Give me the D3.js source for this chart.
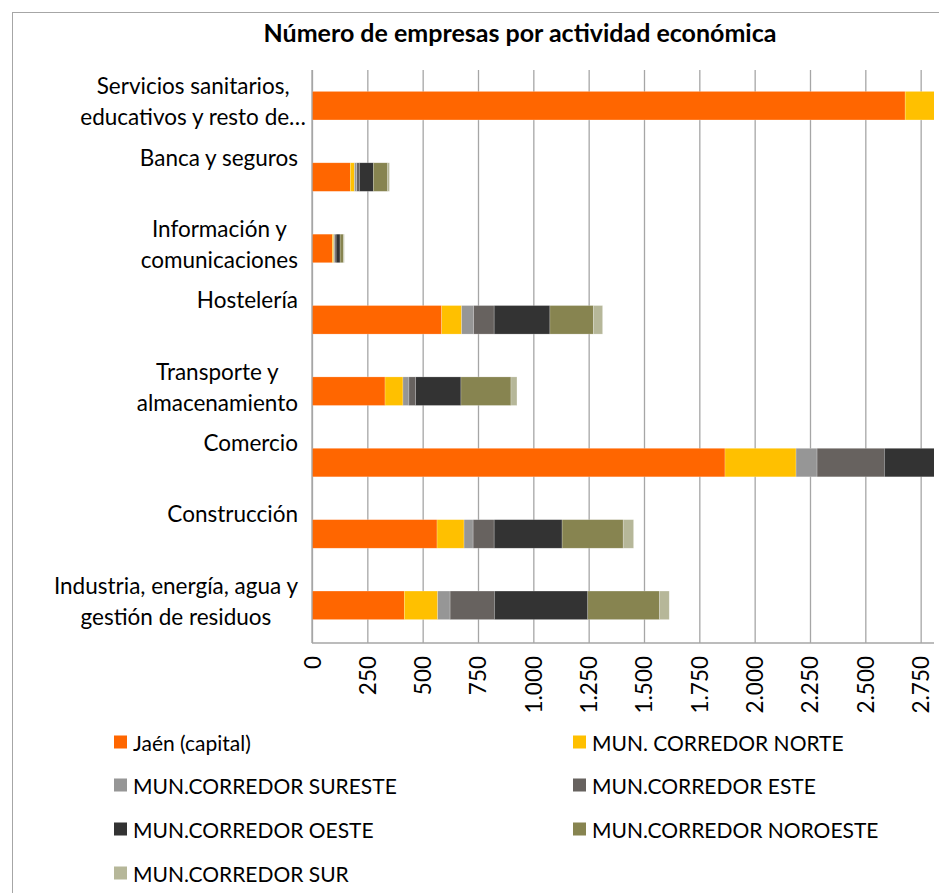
<!DOCTYPE html>
<html>
<head>
<meta charset="utf-8">
<script src="https://cdn.jsdelivr.net/npm/d3@7"></script>
<style>
  html, body { margin: 0; padding: 0; background: #fff; }
  svg { display: block; font-family: Lato, "Open Sans", sans-serif; }
</style>
</head>
<body>
<svg id="chart" width="939" height="893"></svg>
<script>
// ---- data ----
const title = "Número de empresas por actividad económica";
const categories = [
  "Servicios sanitarios, educativos y resto de…",
  "Banca y seguros",
  "Información y comunicaciones",
  "Hostelería",
  "Transporte y almacenamiento",
  "Comercio",
  "Construcción",
  "Industria, energía, agua y gestión de residuos"
];
const categoryLines = [
  ["Servicios sanitarios,", "educativos y resto de…"],
  ["Banca y seguros"],
  ["Información y", "comunicaciones"],
  ["Hostelería"],
  ["Transporte y", "almacenamiento"],
  ["Comercio"],
  ["Construcción"],
  ["Industria, energía, agua y", "gestión de residuos"]
];
const seriesNames = [
  "Jaén (capital)",
  "MUN. CORREDOR NORTE",
  "MUN.CORREDOR SURESTE",
  "MUN.CORREDOR ESTE",
  "MUN.CORREDOR OESTE",
  "MUN.CORREDOR NOROESTE",
  "MUN.CORREDOR SUR"
];
const jaenCapital   = [2680, 173, 92, 586, 330, 1866, 565, 417];
const corredorNorte = [380, 19, 6, 90, 81, 321, 122, 151];
const corredorSureste = [120, 10, 5, 54, 27, 95, 41, 56];
const corredorEste  = [330, 12, 6, 93, 30, 304, 95, 200];
const corredorOeste = [560, 63, 18, 252, 205, 620, 307, 422];
const corredorNoroeste = [480, 65, 15, 196, 226, 560, 276, 324];
const corredorSur   = [80, 8, 4, 42, 27, 90, 47, 44];
const seriesValues = [jaenCapital, corredorNorte, corredorSureste, corredorEste, corredorOeste, corredorNoroeste, corredorSur];
const tickValues = [0, 250, 500, 750, 1000, 1250, 1500, 1750, 2000, 2250, 2500, 2750];
const colors = ["#ff6600", "#ffc000", "#969696", "#67625f", "#333333", "#878450", "#b6b799"];

// ---- layout ----
const svg = d3.select("#chart");
const plotLeft = 312, plotRight = 934, plotTop = 70, plotBottom = 643;
const pxPerUnit = 0.22133;
const x = d3.scaleLinear().domain([0, 3000]).range([plotLeft, plotLeft + 3000 * pxPerUnit]);
const y = d3.scaleBand().domain(categories).range([plotTop, plotBottom - 2]).paddingInner(0.6).paddingOuter(0.3);
const locale = d3.formatLocale({decimal: ",", thousands: ".", grouping: [3], currency: ["", "€"]});
const fmt = locale.format(",d");

// chart border (cropped at right/bottom)
svg.append("rect").attr("x", 12.5).attr("y", 12.5).attr("width", 1000).attr("height", 1000)
  .attr("fill", "none").attr("stroke", "#a6a6a6").attr("stroke-width", 1);

// title
svg.append("text").attr("x", 520).attr("y", 42).attr("text-anchor", "middle")
  .attr("font-weight", "bold").attr("font-size", 25).attr("fill", "#000").text(title);

// clip
svg.append("clipPath").attr("id", "plotclip").append("rect")
  .attr("x", plotLeft).attr("y", plotTop - 5).attr("width", plotRight - plotLeft).attr("height", plotBottom - plotTop + 10);

// gridlines
const gx = svg.append("g").attr("transform", `translate(0,${plotBottom})`)
  .call(d3.axisBottom(x).tickValues(tickValues).tickSize(-(plotBottom - plotTop)).tickFormat(""));
gx.select(".domain").remove();
gx.selectAll(".tick line").attr("stroke", "#a6a6a6").attr("stroke-width", 1.3);

// bars
const stackData = categories.map((c, i) => {
  const o = {cat: c};
  seriesNames.forEach((s, j) => o[s] = seriesValues[j][i]);
  return o;
});
const stacked = d3.stack().keys(seriesNames)(stackData);
const barsG = svg.append("g").attr("clip-path", "url(#plotclip)");
barsG.selectAll("g.series").data(stacked).join("g").attr("class", "series")
  .attr("fill", (d, i) => colors[i])
  .selectAll("rect").data(d => d).join("rect")
  .attr("x", d => x(d[0]))
  .attr("width", d => x(d[1]) - x(d[0]))
  .attr("y", d => y(d.data.cat))
  .attr("height", y.bandwidth())
  .attr("stroke", "#ffffff").attr("stroke-opacity", 0.35).attr("stroke-width", 0.6);

// axis lines
svg.append("line").attr("x1", plotLeft).attr("x2", plotLeft).attr("y1", plotTop).attr("y2", plotBottom)
  .attr("stroke", "#a6a6a6").attr("stroke-width", 1.3);
svg.append("line").attr("x1", plotLeft).attr("x2", plotRight).attr("y1", plotBottom).attr("y2", plotBottom)
  .attr("stroke", "#a6a6a6").attr("stroke-width", 1.3);

// tick labels (rotated)
svg.append("g").selectAll("text").data(tickValues).join("text")
  .attr("transform", d => `translate(${x(d)},${plotBottom + 13}) rotate(-90)`)
  .attr("text-anchor", "end").attr("dominant-baseline", "central")
  .attr("font-size", 22.5).attr("fill", "#000").text(d => fmt(d));

// category labels
const lab = svg.append("g");
categories.forEach((c, i) => {
  const cy = y(c) + y.bandwidth() / 2 - 20;
  const t = lab.append("text").attr("text-anchor", "middle").attr("font-size", 22.5).attr("fill", "#000");
  categoryLines[i].forEach((l, k) => {
    t.append("tspan").attr("y", cy + k * 31).attr("dominant-baseline", "central").text(l);
  });
});
// right-align the block, center lines within it (Excel style)
lab.selectAll("text").each(function(_, i) {
  const spans = d3.select(this).selectAll("tspan").nodes();
  const maxW = d3.max(spans.map(s => s.getComputedTextLength()));
  const right = i === 0 ? 306 : 298;
  spans.forEach(s => d3.select(s).attr("x", right - maxW / 2));
});

// legend
const legendItems = seriesNames.map((s, i) => ({name: s, color: colors[i], col: i % 2, row: Math.floor(i / 2)}));
const lg = svg.append("g");
const colX = [114, 573], rowY = [742, 785, 829, 873];
legendItems.forEach(d => {
  lg.append("rect").attr("x", colX[d.col]).attr("y", rowY[d.row] - 6.5).attr("width", 13).attr("height", 13).attr("fill", d.color);
  lg.append("text").attr("x", colX[d.col] + 19).attr("y", rowY[d.row]).attr("dominant-baseline", "central")
    .attr("font-size", 21).attr("fill", "#000").text(d.name);
});
</script>
</body>
</html>
